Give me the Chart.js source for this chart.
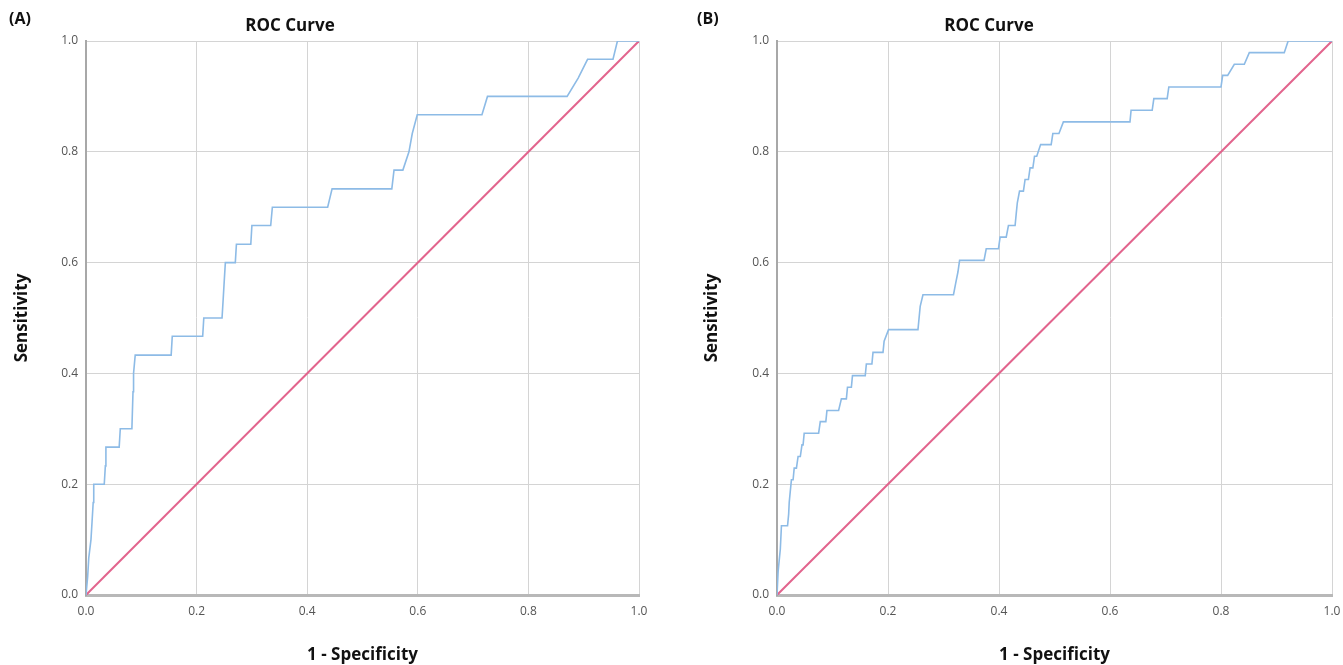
<!DOCTYPE html>
<html>
<head>
<meta charset="utf-8">
<script src="https://cdn.jsdelivr.net/npm/chart.js@4.4.1/dist/chart.umd.min.js"></script>
<style>
  html, body { margin: 0; padding: 0; background: #fff; overflow: hidden; }
  .panel { position: absolute; top: 0; height: 665px; }
  #panelA { left: 0; width: 671px; }
  #panelB { left: 671px; width: 672px; }
</style>
</head>
<body>
<div class="panel" id="panelA"><canvas id="chartA"></canvas></div>
<div class="panel" id="panelB"><canvas id="chartB"></canvas></div>
<script>
// data block
const panelLabels = ['(A)', '(B)'];
const chartTitle = 'ROC Curve';
const xTitle = '1 - Specificity';
const yTitle = 'Sensitivity';
const tickValues = [0, 0.2, 0.4, 0.6, 0.8, 1.0];

// (A) ROC steps
const fprA = [0, 0.003, 0.005, 0.009, 0.011, 0.013, 0.014, 0.033, 0.035, 0.036, 0.060, 0.062, 0.083, 0.085, 0.086, 0.089,
  0.154, 0.156, 0.211, 0.213, 0.246, 0.248, 0.250, 0.252, 0.270, 0.272, 0.298, 0.300, 0.334, 0.337, 0.437, 0.445,
  0.553, 0.557, 0.573, 0.584, 0.590, 0.599, 0.716, 0.726, 0.870, 0.890, 0.907, 0.953, 0.961, 1.0];
const tprA = [0, 0.033, 0.067, 0.100, 0.133, 0.167, 0.200, 0.200, 0.233, 0.267, 0.267, 0.300, 0.300, 0.367, 0.400, 0.433,
  0.433, 0.467, 0.467, 0.500, 0.500, 0.533, 0.567, 0.600, 0.600, 0.633, 0.633, 0.667, 0.667, 0.700, 0.700, 0.733,
  0.733, 0.767, 0.767, 0.800, 0.833, 0.867, 0.867, 0.900, 0.900, 0.933, 0.967, 0.967, 1.0, 1.0];

// (B) ROC steps
const fprB = [0, 0.002, 0.004, 0.006, 0.008, 0.019, 0.021, 0.022, 0.024, 0.026, 0.029, 0.031, 0.035, 0.038, 0.042, 0.045,
  0.047, 0.049, 0.075, 0.078,
  0.088, 0.090, 0.111, 0.116, 0.125, 0.127, 0.134, 0.136, 0.159, 0.161, 0.171, 0.173, 0.191, 0.193, 0.201, 0.254,
  0.256, 0.258, 0.263, 0.318, 0.322, 0.326, 0.329, 0.373, 0.377, 0.399, 0.402, 0.413, 0.417, 0.429, 0.431, 0.433,
  0.437, 0.444, 0.447, 0.453, 0.456, 0.461, 0.464, 0.468, 0.475, 0.494, 0.497, 0.508, 0.516, 0.636, 0.638, 0.676,
  0.679, 0.703, 0.706, 0.800, 0.803, 0.812, 0.824, 0.842, 0.851, 0.914, 0.921, 1.0];
const tprB = [0, 0.042, 0.063, 0.083, 0.125, 0.125, 0.146, 0.167, 0.188, 0.208, 0.208, 0.229, 0.229, 0.250, 0.250, 0.271,
  0.271, 0.292, 0.292, 0.313,
  0.313, 0.333, 0.333, 0.354, 0.354, 0.375, 0.375, 0.396, 0.396, 0.417, 0.417, 0.438, 0.438, 0.458, 0.479, 0.479,
  0.500, 0.521, 0.542, 0.542, 0.563, 0.583, 0.604, 0.604, 0.625, 0.625, 0.646, 0.646, 0.667, 0.667, 0.688, 0.708,
  0.729, 0.729, 0.750, 0.750, 0.771, 0.771, 0.792, 0.792, 0.813, 0.813, 0.833, 0.833, 0.854, 0.854, 0.875, 0.875,
  0.896, 0.896, 0.917, 0.917, 0.938, 0.938, 0.958, 0.958, 0.979, 0.979, 1.0, 1.0];

// reference line
const refX = [0, 1];
const refY = [0, 1];

const toPoints = (xs, ys) => xs.map((x, i) => ({x: x, y: ys[i]}));

// draws panel letter and chart title
const headerPlugin = {
    id: 'header',
    afterDraw(chart, args, opts) {
        const ctx = chart.ctx;
        ctx.save();
        ctx.fillStyle = '#111';
        ctx.textBaseline = 'middle';
        ctx.font = 'bold 16px "Open Sans", sans-serif';
        ctx.textAlign = 'left';
        ctx.fillText(opts.label, opts.labelX, 19);
        ctx.font = 'bold 17px "Open Sans", sans-serif';
        ctx.textAlign = 'center';
        ctx.fillText(chartTitle, opts.titleX, 26);
        ctx.restore();
    }
};

// config block
const makeConfig = (fpr, tpr, p) => ({
    type: 'line',
    data: {
        datasets: [{
            data: toPoints(fpr, tpr),
            borderColor: '#8dbbe6',
            borderWidth: 1.6,
            pointRadius: 0,
            tension: 0
        }, {
            data: toPoints(refX, refY),
            borderColor: '#e2648d',
            borderWidth: 2,
            pointRadius: 0,
            tension: 0
        }]
    },
    options: {
        responsive: true,
        maintainAspectRatio: false,
        animation: false,
        layout: { padding: { top: 41, left: 0, right: p.padRight, bottom: 0 } },
        plugins: {
            legend: { display: false },
            tooltip: { enabled: false },
            header: { label: p.label, labelX: p.labelX, titleX: p.titleX }
        },
        scales: {
            x: {
                type: 'linear',
                min: 0,
                max: 1,
                afterBuildTicks: s => { s.ticks = tickValues.map(v => ({value: v})); },
                afterFit: s => { s.height = 70; s.paddingLeft = 0; s.paddingRight = 0; },
                ticks: {
                    padding: 9,
                    color: '#555',
                    font: { family: '"Open Sans", sans-serif', size: 12 },
                    callback: v => v.toFixed(1)
                },
                grid: { color: '#d4d4d4', lineWidth: 1, drawTicks: false },
                border: { color: '#b8b8b8', width: 3 },
                title: {
                    display: true,
                    text: xTitle,
                    color: '#111',
                    font: { family: '"Open Sans", sans-serif', size: 17, weight: 'bold' },
                    padding: { top: 0, bottom: 0 }
                }
            },
            y: {
                min: 0,
                max: 1,
                afterBuildTicks: s => { s.ticks = tickValues.map(v => ({value: v})); },
                afterFit: s => { s.width = p.yWidth; s.paddingTop = 0; s.paddingBottom = 0; },
                ticks: {
                    padding: 8,
                    color: '#555',
                    font: { family: '"Open Sans", sans-serif', size: 12 },
                    callback: v => v.toFixed(1)
                },
                grid: { color: '#d4d4d4', lineWidth: 1, drawTicks: false },
                border: { color: '#a8a8a8', width: 2 },
                title: {
                    display: true,
                    text: yTitle,
                    color: '#111',
                    font: { family: '"Open Sans", sans-serif', size: 17, weight: 'bold' },
                    padding: { top: p.yTitlePad, bottom: 0 }
                }
            }
        }
    },
    plugins: [headerPlugin]
});

// init render block
const chartA = new Chart(
    document.getElementById('chartA'),
    makeConfig(fprA, tprA, { label: panelLabels[0], labelX: 9, titleX: 290, padRight: 32, yWidth: 86, yTitlePad: 12 })
);
const chartB = new Chart(
    document.getElementById('chartB'),
    makeConfig(fprB, tprB, { label: panelLabels[1], labelX: 26, titleX: 318, padRight: 11, yWidth: 106, yTitlePad: 31 })
);
</script>
</body>
</html>
